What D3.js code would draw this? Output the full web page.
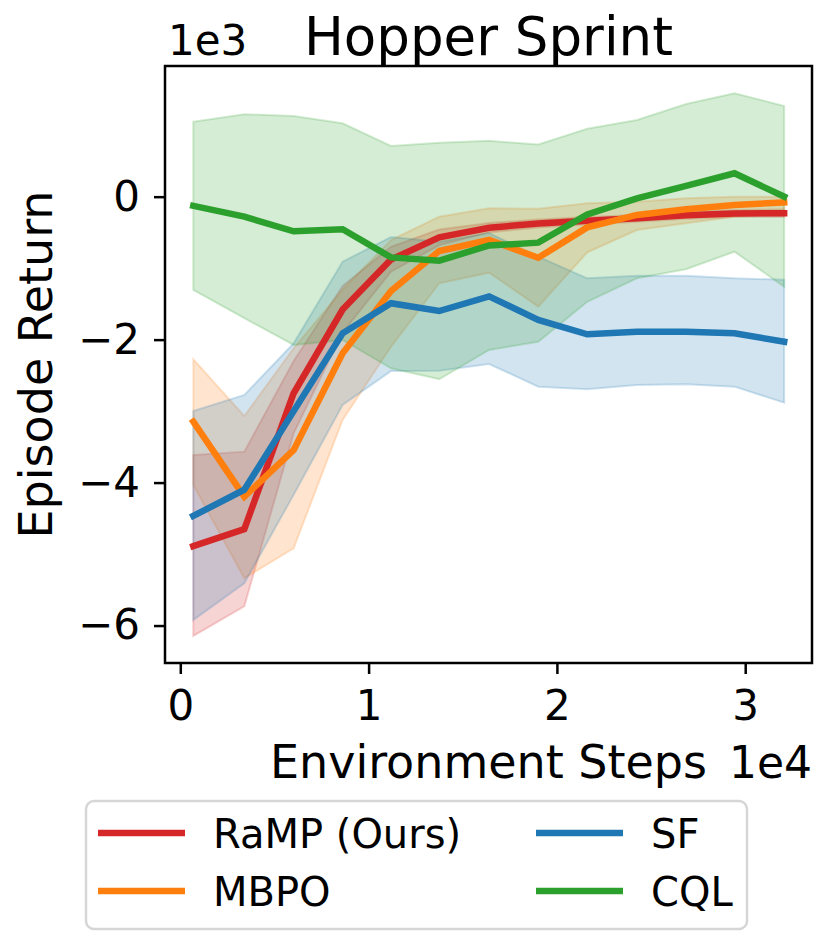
<!DOCTYPE html>
<html>
<head>
<meta charset="utf-8">
<script src="https://cdn.jsdelivr.net/npm/d3@7"></script>
<style>
  body { margin: 0; background: #fff; }
  text { font-family: "DejaVu Sans", sans-serif; fill: #000; }
</style>
</head>
<body>
<script>
// environment steps (x)
var steps = [690, 3400, 6020, 8620, 11190, 13750, 16400, 19010, 21610, 24250, 26860, 29430, 32070];

// RaMP (Ours)
var rampMean = [-4890, -4650, -2750, -1580, -880, -570, -434, -375, -336, -302, -260, -235, -232];
var rampLow  = [-6146, -5730, -3310, -1900, -1050, -680, -500, -430, -390, -350, -310, -285, -285];
var rampHigh = [-3614, -3567, -2300, -1250, -700, -460, -370, -320, -285, -255, -210, -185, -180];

// MBPO
var mbpoMean = [-3148, -4197, -3544, -2191, -1320, -760, -606, -855, -430, -256, -176, -116, -79];
var mbpoLow  = [-4033, -5339, -4919, -3124, -2100, -1212, -1063, -1539, -780, -466, -373, -280, -233];
var mbpoHigh = [-2275, -3068, -2121, -1300, -606, -280, -163, -170, -93, -70, -23, 0, 0];

// SF
var sfMean = [-4467, -4100, -3000, -1911, -1491, -1600, -1395, -1725, -1925, -1889, -1889, -1911, -2029];
var sfLow  = [-5922, -5409, -4170, -2914, -2440, -2434, -2341, -2658, -2695, -2634, -2625, -2658, -2882];
var sfHigh = [-2998, -2774, -2051, -909, -565, -630, -508, -840, -1142, -1105, -1105, -1142, -1162];

// CQL
var cqlMean = [-128, -280, -485, -456, -850, -895, -683, -643, -250, -23, 150, 327, 0];
var cqlLow  = [-1305, -1700, -2075, -2005, -2401, -2555, -2145, -2030, -1470, -1142, -1016, -770, -1260];
var cqlHigh = [1049, 1153, 1129, 1026, 709, 755, 781, 730, 950, 1073, 1297, 1446, 1269];

var xTicks = [0, 10000, 20000, 30000];
var yTicks = [0, -2000, -4000, -6000];

var seriesNames = ["RaMP (Ours)", "MBPO", "SF", "CQL"];
var seriesColors = ["#d62728", "#ff7f0e", "#1f77b4", "#2ca02c"];

function makeSeries() {
  var means = [rampMean, mbpoMean, sfMean, cqlMean];
  var lows = [rampLow, mbpoLow, sfLow, cqlLow];
  var highs = [rampHigh, mbpoHigh, sfHigh, cqlHigh];
  return seriesNames.map(function(name, s) {
    return {
      name: name,
      color: seriesColors[s],
      points: steps.map(function(x, i) {
        return {x: x, mean: means[s][i], low: lows[s][i], high: highs[s][i]};
      })
    };
  });
}

function makeChart() {
  var left = 165, top = 66, right = 812, bottom = 663;

  var svg = d3.select("body")
    .append("svg")
    .attr("width", 830)
    .attr("height", 949);

  var x = d3.scaleLinear().domain([-812, 33547]).range([left, right]);
  var y = d3.scaleLinear().domain([-6524, 1828]).range([bottom, top]);

  var series = makeSeries();

  var area = d3.area()
    .x(function(d) { return x(d.x); })
    .y0(function(d) { return y(d.low); })
    .y1(function(d) { return y(d.high); });

  var line = d3.line()
    .x(function(d) { return x(d.x); })
    .y(function(d) { return y(d.mean); });

  // bands go below every line
  svg.append("g").selectAll("path")
    .data(series).enter()
    .append("path")
      .attr("d", function(s) { return area(s.points); })
      .attr("fill", function(s) { return s.color; })
      .attr("fill-opacity", 0.2)
      .attr("stroke", function(s) { return s.color; })
      .attr("stroke-opacity", 0.2)
      .attr("stroke-width", 2);

  svg.append("g").selectAll("path")
    .data(series).enter()
    .append("path")
      .attr("d", function(s) { return line(s.points); })
      .attr("fill", "none")
      .attr("stroke", function(s) { return s.color; })
      .attr("stroke-width", 6.5)
      .attr("stroke-linecap", "square");

  // axes
  var xAxis = svg.append("g")
    .attr("transform", "translate(0," + bottom + ")")
    .call(d3.axisBottom(x).tickValues(xTicks).tickSize(11).tickPadding(16)
      .tickFormat(function(d) { return d / 10000; }));

  var yAxis = svg.append("g")
    .attr("transform", "translate(" + left + ",0)")
    .call(d3.axisLeft(y).tickValues(yTicks).tickSize(11).tickPadding(14)
      .tickFormat(function(d) { return d === 0 ? "0" : "\u2212" + Math.abs(d / 1000); }));

  [xAxis, yAxis].forEach(function(a) {
    a.select(".domain").remove();
    a.selectAll(".tick line").attr("stroke", "#000").attr("stroke-width", 2.5);
    a.selectAll(".tick text")
      .style("font-family", "DejaVu Sans")
      .style("font-size", "42px")
      .attr("fill", "#000");
  });

  // frame
  svg.append("rect")
    .attr("x", left)
    .attr("y", top)
    .attr("width", right - left)
    .attr("height", bottom - top)
    .attr("fill", "none")
    .attr("stroke", "#000")
    .attr("stroke-width", 2.5);

  // texts
  svg.append("text")
    .attr("x", (left + right) / 2)
    .attr("y", 55)
    .attr("text-anchor", "middle")
    .style("font-size", "53px")
    .text("Hopper Sprint");

  svg.append("text")
    .attr("x", 168)
    .attr("y", 55)
    .style("font-size", "42px")
    .text("1e3");

  svg.append("text")
    .attr("x", (left + right) / 2)
    .attr("y", 778)
    .attr("text-anchor", "middle")
    .style("font-size", "46px")
    .text("Environment Steps");

  svg.append("text")
    .attr("x", 812)
    .attr("y", 778)
    .attr("text-anchor", "end")
    .style("font-size", "44px")
    .text("1e4");

  svg.append("text")
    .attr("transform", "translate(52," + ((top + bottom) / 2) + ") rotate(-90)")
    .attr("text-anchor", "middle")
    .style("font-size", "46px")
    .text("Episode Return");

  // legend
  var legend = svg.append("g");
  legend.append("rect")
    .attr("x", 86)
    .attr("y", 801)
    .attr("width", 661)
    .attr("height", 128)
    .attr("rx", 8)
    .attr("fill", "#fff")
    .attr("stroke", "#d6d6d6")
    .attr("stroke-width", 2.5);

  var colX = [98, 536];
  var rowY = [833, 891];
  series.forEach(function(s, i) {
    var cx = colX[Math.floor(i / 2)];
    var cy = rowY[i % 2];
    legend.append("line")
      .attr("x1", cx)
      .attr("x2", cx + 87)
      .attr("y1", cy)
      .attr("y2", cy)
      .attr("stroke", s.color)
      .attr("stroke-width", 6.5);
    legend.append("text")
      .attr("x", cx + 115)
      .attr("y", cy + 15)
      .style("font-size", "40px")
      .text(s.name);
  });
}

window.onload = function() {
  makeChart();
};
</script>
</body>
</html>
